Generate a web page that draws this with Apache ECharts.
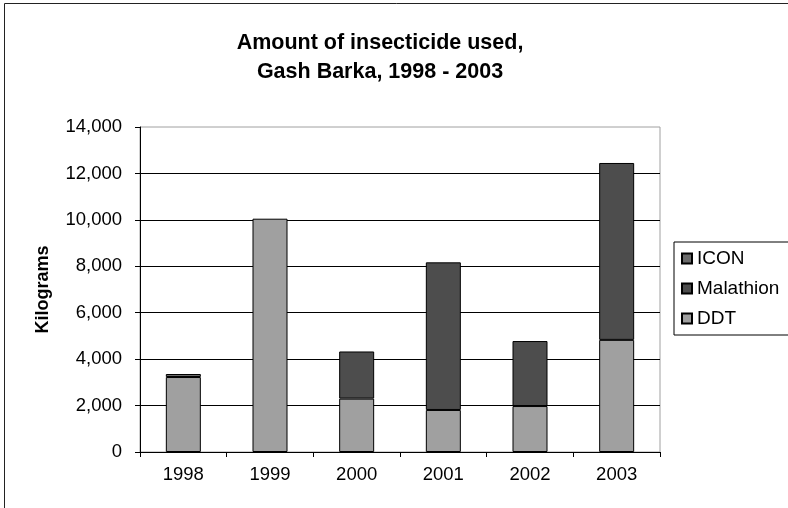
<!DOCTYPE html>
<html lang="en">
<head>
    <meta charset="UTF-8">
    <title>Amount of insecticide used</title>
    <script type="text/javascript" src="https://cdn.jsdelivr.net/npm/echarts@6.0.0/dist/echarts.min.js"></script>
    <style>
        html, body { margin: 0; padding: 0; background: #fff; }
    </style>
</head>
<body>
<div id="main" style="width:788px;height:508px;"></div>
<script>
    // values (kg)
    let years = ['1998', '1999', '2000', '2001', '2002', '2003'];
    let ddt = [3230, 10050, 2300, 1810, 1980, 4830];
    let malathion = [0, 0, 2030, 6360, 2800, 7620];
    let icon = [130, 0, 0, 0, 0, 0];
    let legendOrder = ['ICON', 'Malathion', 'DDT'];

    const font = 'Liberation Sans, Arial, sans-serif';

    function barSeries(name, data, color) {
        return {
            name: name,
            type: 'bar',
            stack: 'total',
            // zero values leave no sliver of border at the base
            data: data.map(v => v === 0 ? '-' : v),
            barWidth: 35,
            itemStyle: { color: color, borderColor: '#000', borderWidth: 1 }
        };
    }

    let myChart = echarts.init(document.getElementById('main'), null, { renderer: 'canvas' });

    let option = {
        animation: false,
        backgroundColor: '#fff',
        textStyle: { fontFamily: font },
        title: {
            text: 'Amount of insecticide used,\nGash Barka, 1998 - 2003',
            left: 375,
            top: 24,
            textAlign: 'center',
            textStyle: { fontSize: 21.5, fontWeight: 'bold', color: '#000', lineHeight: 29, fontFamily: font }
        },
        legend: {
            data: legendOrder,
            orient: 'vertical',
            left: 674,
            top: 242,
            padding: [7, 12, 7, 7],
            itemGap: 11,
            itemWidth: 10,
            itemHeight: 10,
            icon: 'rect',
            borderColor: '#000',
            borderWidth: 1,
            textStyle: { fontSize: 19, color: '#000', fontFamily: font }
        },
        grid: { left: 140, right: 128, top: 127, bottom: 56, show: true, borderColor: '#a0a0a0', borderWidth: 1 },
        xAxis: {
            type: 'category',
            data: years,
            axisLine: { lineStyle: { color: '#000', width: 1 } },
            axisTick: { show: true, length: 5, lineStyle: { color: '#000' } },
            axisLabel: { fontSize: 18.5, color: '#000', margin: 13, fontFamily: font }
        },
        yAxis: {
            type: 'value',
            min: 0,
            max: 14000,
            interval: 2000,
            name: 'Kilograms',
            nameLocation: 'middle',
            nameRotate: 90,
            nameGap: 88,
            nameTextStyle: { fontSize: 18, fontWeight: 'bold', color: '#000', fontFamily: font },
            axisLine: { show: true, lineStyle: { color: '#000', width: 1 } },
            axisTick: { show: true, length: 5, lineStyle: { color: '#000' } },
            axisLabel: {
                fontSize: 18.5, color: '#000', margin: 18, fontFamily: font,
                formatter: v => v.toLocaleString('en-US')
            },
            splitLine: { showMaxLine: false, lineStyle: { color: '#000', width: 1 } }
        },
        series: [
            barSeries('DDT', ddt, '#a0a0a0'),
            barSeries('Malathion', malathion, '#4d4d4d'),
            barSeries('ICON', icon, '#6b6b6b')
        ],
        graphic: [{
            type: 'rect',
            shape: { x: 4.5, y: 3.5, width: 820, height: 540 },
            style: { fill: null, stroke: '#222', lineWidth: 1 },
            silent: true,
            z: -1
        }]
    };

    myChart.setOption(option);
</script>
</body>
</html>
